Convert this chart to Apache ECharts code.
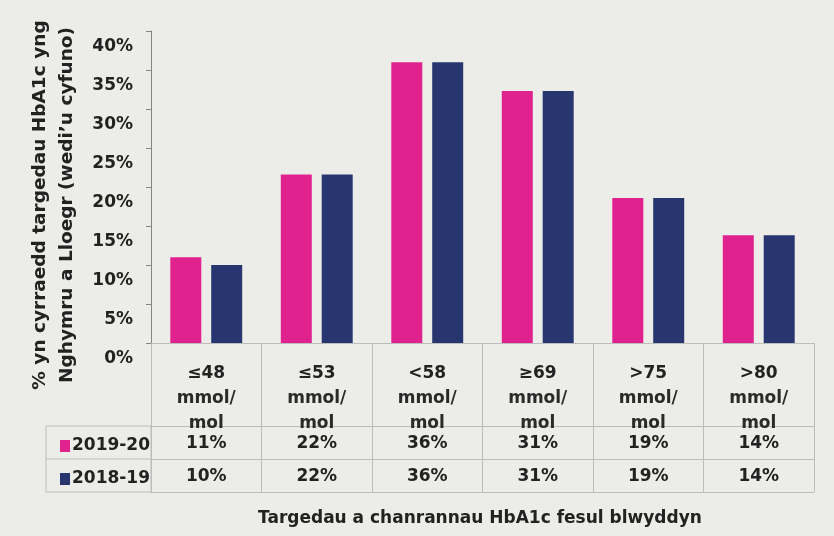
<!DOCTYPE html>
<html>
<head>
<meta charset="utf-8">
<script src="https://cdn.jsdelivr.net/npm/echarts@6/dist/echarts.min.js"></script>
<style>
html, body { margin: 0; padding: 0; background: #fff; }
#chart { width: 834px; height: 536px; }
</style>
</head>
<body>
<div id="chart"></div>
<script>
// categories (targets)
var categories = ['≤48 mmol/mol', '≤53 mmol/mol', '<58 mmol/mol', '≥69 mmol/mol', '>75 mmol/mol', '>80 mmol/mol'];
var seriesNames = ['2019-20', '2018-19'];
// bar heights as drawn
var values2019 = [11, 21.6, 36, 32.3, 18.6, 13.8];
var values2018 = [10, 21.6, 36, 32.3, 18.6, 13.8];
// data table rows as printed
var table2019 = ['11%', '22%', '36%', '31%', '19%', '14%'];
var table2018 = ['10%', '22%', '36%', '31%', '19%', '14%'];
var yTicks = [0, 5, 10, 15, 20, 25, 30, 35, 40];

var PINK = '#e0228f';
var NAVY = '#283670';
var FONT = 'DejaVu Sans';
var TXT = '#222';
var LINE = '#bcbcbc';

// grid edges
var gL = 151, gR = 814, gT = 31, gB = 343;
var rowH = 33, headH = 83;

var chart = echarts.init(document.getElementById('chart'));

// a row of the data table, drawn as an extra x axis under the grid
function tableRow(labels, offset, showLabel) {
    return {
        type: 'category',
        position: 'bottom',
        data: labels,
        offset: offset,
        axisLine: { show: true, lineStyle: { color: LINE } },
        axisTick: { show: false },
        axisLabel: { show: showLabel, margin: 9, interval: 0, fontFamily: FONT, fontSize: 17, fontWeight: 'bold', color: TXT }
    };
}

var option = {
    animation: false,
    backgroundColor: '#ecece9',
    textStyle: { fontFamily: FONT },
    title: {
        text: 'Targedau a chanrannau HbA1c fesul blwyddyn',
        left: 253,
        top: 505,
        textStyle: { fontFamily: FONT, fontSize: 17, fontWeight: 'bold', color: TXT }
    },
    legend: {
        data: seriesNames,
        orient: 'vertical',
        left: 55,
        top: gB + headH + 5,
        itemWidth: 10,
        itemHeight: 12,
        itemGap: 13,
        icon: 'rect',
        textStyle: { fontFamily: FONT, fontSize: 17, fontWeight: 'bold', color: TXT, lineHeight: 20, padding: [0, 0, 0, -3] }
    },
    grid: { left: gL, right: 834 - gR, top: gT, bottom: 536 - gB, containLabel: false, outerBoundsMode: 'none' },
    xAxis: [
        {
            type: 'category',
            position: 'bottom',
            data: categories,
            axisLine: { show: true, lineStyle: { color: LINE } },
            axisTick: { show: true, length: headH + 2 * rowH, lineStyle: { color: LINE } },
            axisLabel: {
                margin: 18,
                interval: 0,
                formatter: function (v) {
                    var p = v.split(' ');
                    return '{a|' + p[0] + '}\n{b|' + p[1].replace('/', '/}\n{b|') + '}';
                },
                rich: {
                    a: { fontFamily: FONT, fontSize: 17, fontWeight: 'bold', color: TXT, lineHeight: 25 },
                    b: { fontFamily: FONT, fontSize: 17, fontWeight: 'bold', color: '#2a2a2a', lineHeight: 25 }
                }
            }
        },
        tableRow(table2019, headH, true),
        tableRow(table2018, headH + rowH, true),
        tableRow(categories, headH + 2 * rowH, false)
    ],
    yAxis: {
        type: 'value',
        min: yTicks[0],
        max: yTicks[yTicks.length - 1],
        interval: 5,
        axisLine: { show: true, lineStyle: { color: '#858585' } },
        axisTick: { show: true, length: 5, lineStyle: { color: '#858585' } },
        splitLine: { show: false },
        axisLabel: {
            margin: 18,
            formatter: '{value}%',
            fontFamily: FONT,
            fontSize: 17,
            fontWeight: 'bold',
            color: TXT,
            verticalAlign: 'top',
            lineHeight: 32
        }
    },
    graphic: [
        {
            type: 'rect',
            shape: { x: 46, y: gB + headH, width: gL - 46, height: 2 * rowH },
            style: { fill: 'none', stroke: LINE, lineWidth: 1 }
        },
        {
            type: 'line',
            shape: { x1: 46, y1: gB + headH + rowH, x2: gL, y2: gB + headH + rowH },
            style: { stroke: LINE, lineWidth: 1 }
        },
        {
            type: 'text',
            x: 54,
            y: 205,
            rotation: Math.PI / 2,
            style: {
                text: '% yn cyrraedd targedau HbA1c yng\nNghymru a Lloegr (wedi’u cyfuno)',
                fontFamily: FONT,
                fontSize: 18.5,
                fontWeight: 'bold',
                fill: TXT,
                lineHeight: 27,
                align: 'center',
                verticalAlign: 'middle'
            }
        }
    ],
    series: [
        {
            name: seriesNames[0],
            type: 'bar',
            data: values2019,
            barWidth: 31,
            barGap: '32%',
            itemStyle: { color: PINK }
        },
        {
            name: seriesNames[1],
            type: 'bar',
            data: values2018,
            barWidth: 31,
            barGap: '32%',
            itemStyle: { color: NAVY }
        }
    ]
};

chart.setOption(option);
</script>
</body>
</html>
